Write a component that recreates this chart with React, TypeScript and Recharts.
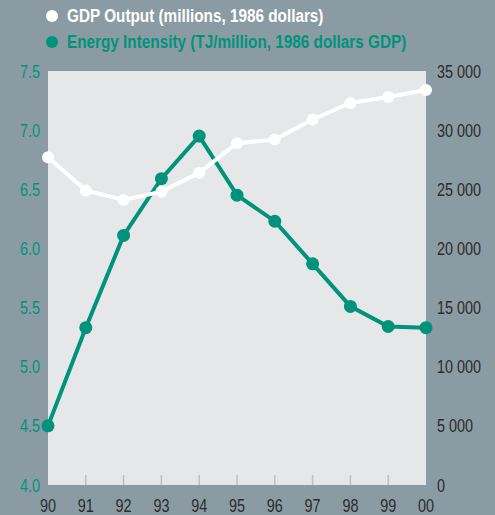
import { LineChart, Line, XAxis, YAxis, CartesianGrid } from "recharts";

const years = ["90", "91", "92", "93", "94", "95", "96", "97", "98", "99", "00"];
const gdpOutput = [27700, 24900, 24100, 24800, 26400, 28900, 29200, 30900, 32300, 32800, 33400];
const energyIntensity = [4.5, 5.33, 6.11, 6.59, 6.95, 6.45, 6.23, 5.87, 5.51, 5.34, 5.33];
const leftTicks = [4.0, 4.5, 5.0, 5.5, 6.0, 6.5, 7.0, 7.5];
const rightTicks = [0, 5000, 10000, 15000, 20000, 25000, 30000, 35000];

const chartData = years.map((year, i) => ({
  year,
  gdp: gdpOutput[i],
  energy: energyIntensity[i],
}));

const GREEN = "#00937b";
const BG = "#8a9ba4";
const PLOT = "#e6e7e9";
const DARK = "#2b2b2b";
const FONT = "'Liberation Sans', Arial, sans-serif";
const SQUEEZE = 0.8;
const LEGEND_SQUEEZE = 0.85;

const fmtThousands = (v: number) =>
  v === 0 ? "0" : `${Math.floor(v / 1000)} ${String(v % 1000).padStart(3, "0")}`;

// narrow text, like a condensed face
const NarrowText = ({ x, y, anchor, fill, children }: any) => (
  <text
    transform={`translate(${x},${y}) scale(${SQUEEZE},1)`}
    textAnchor={anchor}
    fill={fill}
    fontSize={18}
    fontFamily={FONT}
  >
    {children}
  </text>
);

const YearTick = (props: any) => {
  const { x, y, payload, index } = props;
  const edge = index === 0 || index === years.length - 1;
  return (
    <g>
      {!edge && <line x1={x} x2={x} y1={y} y2={y - 10} stroke="#bfc0c2" strokeWidth={1.5} />}
      <NarrowText x={x} y={y + 27} anchor="middle" fill={DARK}>
        {payload.value}
      </NarrowText>
    </g>
  );
};

const LeftTick = (props: any) => {
  const { x, y, payload } = props;
  return (
    <NarrowText x={x} y={y + 6.5} anchor="end" fill={GREEN}>
      {Number(payload.value).toFixed(1)}
    </NarrowText>
  );
};

const RightTick = (props: any) => {
  const { x, y, payload } = props;
  return (
    <NarrowText x={x} y={y + 6.5} anchor="start" fill={DARK}>
      {fmtThousands(payload.value)}
    </NarrowText>
  );
};

const legendRow = (color: string, label: string) => (
  <div style={{ display: "flex", alignItems: "center", height: 26, color }}>
    <span style={{ width: 12, height: 12, borderRadius: 6, background: color, marginRight: 9, flex: "none" }} />
    <span style={{ display: "inline-block", transform: `scaleX(${LEGEND_SQUEEZE})`, transformOrigin: "left center", whiteSpace: "nowrap" }}>
      {label}
    </span>
  </div>
);

export default function App() {
  return (
    <div style={{ position: "absolute", left: 0, top: 0, width: 495, height: 515, background: BG, fontFamily: FONT, overflow: "hidden" }}>
      <div style={{ position: "absolute", left: 46, top: 3, zIndex: 2, fontWeight: 700, fontSize: 18 }}>
        {legendRow("#ffffff", "GDP Output (millions, 1986 dollars)")}
        {legendRow(GREEN, "Energy Intensity (TJ/million, 1986 dollars GDP)")}
      </div>
      <LineChart width={495} height={515} data={chartData} margin={{ top: 71, right: 0, left: 0, bottom: 0 }}>
        <rect x={48} y={71} width={378} height={414} fill={PLOT} />
        <CartesianGrid yAxisId="left" vertical={false} stroke="#c2c3c5" strokeWidth={1.5} horizontalValues={[4.5, 5.0, 5.5, 6.0, 6.5, 7.0]} />
        <XAxis
          dataKey="year"
          axisLine={false}
          tickLine={false}
          tickSize={0}
          tickMargin={0}
          height={30}
          interval={0}
          tick={<YearTick />}
        />
        <YAxis
          yAxisId="left"
          orientation="left"
          domain={[4, 7.5]}
          ticks={leftTicks}
          width={48}
          axisLine={false}
          tickLine={false}
          tickSize={0}
          tickMargin={8}
          tick={<LeftTick />}
        />
        <YAxis
          yAxisId="right"
          orientation="right"
          domain={[0, 35000]}
          ticks={rightTicks}
          width={69}
          axisLine={false}
          tickLine={false}
          tickSize={0}
          tickMargin={11}
          tick={<RightTick />}
        />
        <Line
          yAxisId="left"
          dataKey="energy"
          stroke={GREEN}
          strokeWidth={4}
          dot={{ r: 6.5, fill: GREEN, stroke: GREEN, strokeWidth: 0 }}
          isAnimationActive={false}
        />
        <Line
          yAxisId="right"
          dataKey="gdp"
          stroke="#ffffff"
          strokeWidth={4}
          dot={{ r: 6, fill: "#ffffff", stroke: "#ffffff", strokeWidth: 0 }}
          isAnimationActive={false}
        />
      </LineChart>
    </div>
  );
}
